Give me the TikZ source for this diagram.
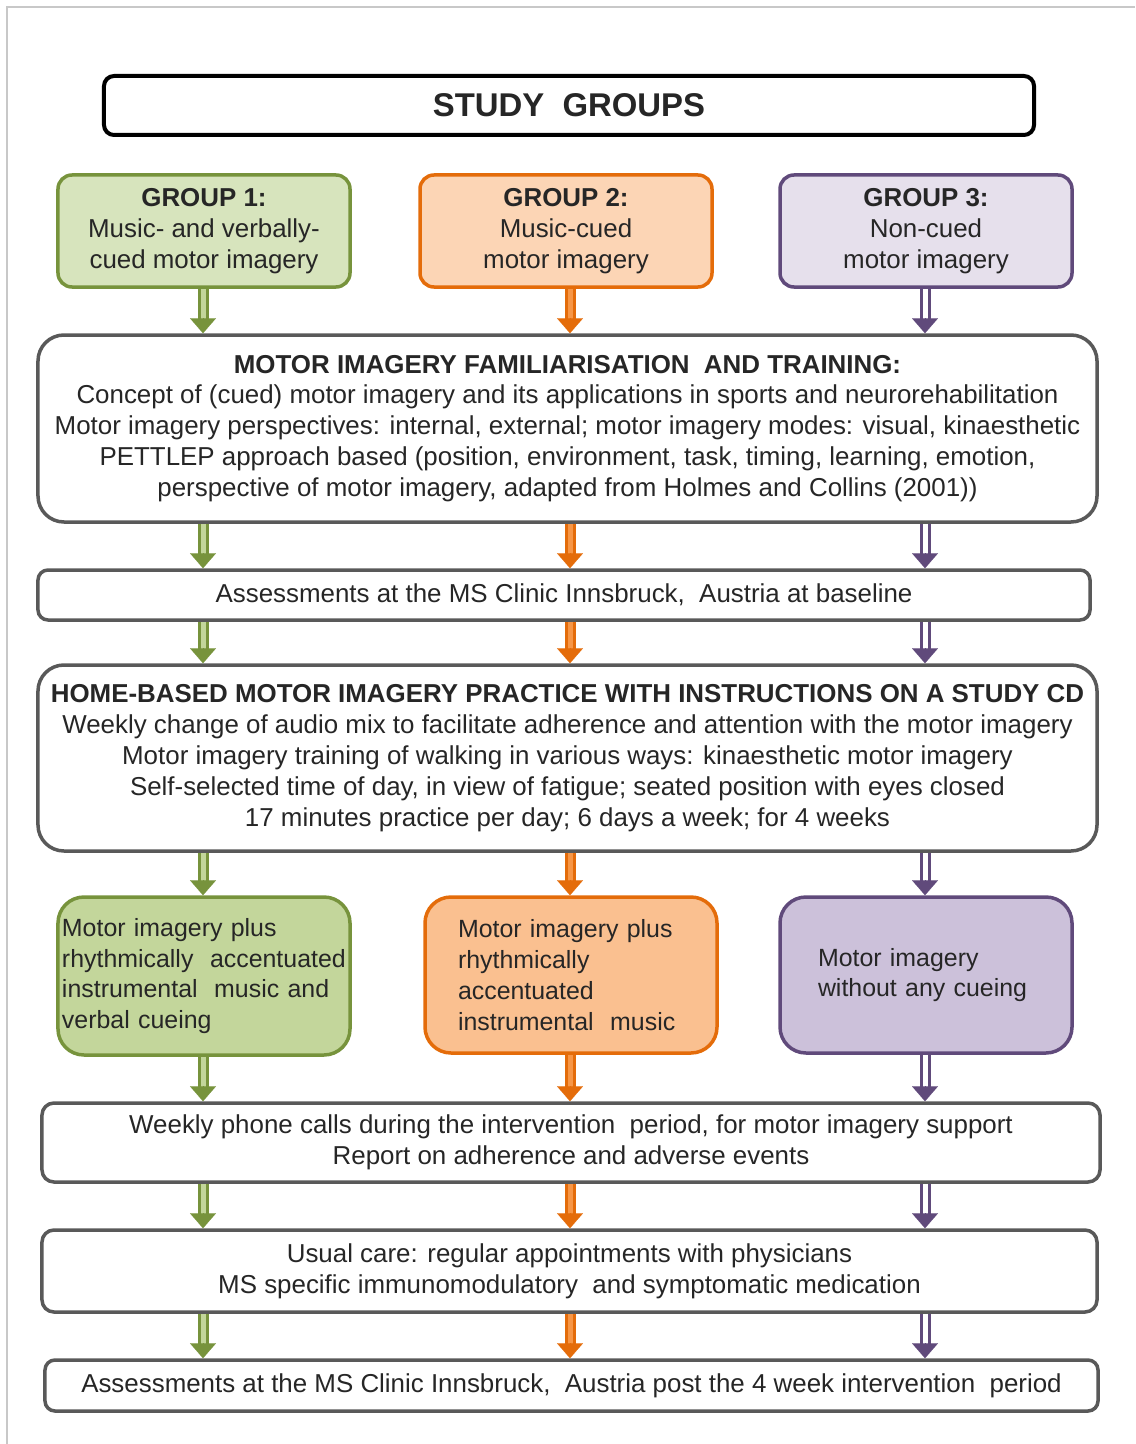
\documentclass[tikz,border=0pt]{standalone}
\usepackage{fontspec}
\setmainfont{Liberation Sans}
\usetikzlibrary{arrows.meta,calc}

\definecolor{txt}{HTML}{262626}
\definecolor{frame}{HTML}{C8C8C8}
\definecolor{grayline}{HTML}{595959}
\definecolor{gline}{HTML}{77933C}
\definecolor{gpale}{HTML}{D7E4BD}
\definecolor{gfill}{HTML}{C3D69B}
\definecolor{oline}{HTML}{E46C0A}
\definecolor{opale}{HTML}{FCD5B5}
\definecolor{ofill}{HTML}{FAC090}
\definecolor{oinner}{HTML}{F79646}
\definecolor{pline}{HTML}{604A7B}
\definecolor{ppale}{HTML}{E6E0EC}
\definecolor{pfill}{HTML}{CCC1DA}

\newcommand\bodyfont{\fontsize{26}{31}\selectfont}
\newcommand\armfont{\fontsize{25}{31}\selectfont}
\newcommand\flowarrow[3]{%
  \draw[#1shaft] (#2) -- (#3);
  \draw[#1head] ($(#3)+(0,-15)$) -- (#3);
}

\begin{document}
\begin{tikzpicture}[x=1bp,y=-1bp,
  every node/.style={text=txt, font=\bodyfont, inner sep=0pt, align=center},
  box/.style={rectangle, draw=grayline, fill=white, line width=3.5bp, rounded corners=#1},
  box/.default=10bp,
  titlebox/.style={rectangle, draw=black, fill=white, line width=4bp, rounded corners=10bp},
  groupbox/.style n args={3}{rectangle, draw=#1, fill=#2, line width=3.5bp,
      rounded corners=#3, minimum width=292bp},
  armbox/.style={font=\armfont, align=left},
  shaftbase/.style={line width=3bp, double distance=5bp, shorten >=14bp},
  headbase/.style={line width=0.1bp, -{Triangle[length=15bp,width=26bp]}},
  gshaft/.style={shaftbase, draw=gline, double=gfill},
  ghead/.style={headbase, draw=gline, fill=gline},
  oshaft/.style={shaftbase, draw=oline, double=oinner},
  ohead/.style={headbase, draw=oline, fill=oline},
  pshaft/.style={shaftbase, draw=pline, double=white},
  phead/.style={headbase, draw=pline, fill=pline},
]
\useasboundingbox (0,0) rectangle (1135,1444);
\draw[frame, line width=1.5bp] (7,1444) -- (7,7) -- (1135,7);

% column positions of the three arms
\coordinate (xA) at (203,0);
\coordinate (xB) at (570,0);
\coordinate (xC) at (925,0);

\node[titlebox, minimum width=930bp, minimum height=59bp] (title) at (569,105.5)
  {\fontsize{33}{38}\selectfont\bfseries STUDY\ \ GROUPS};

\node[groupbox={gline}{gpale}{14bp}, minimum height=112bp] (g1) at (204,231)
  {\textbf{GROUP 1:}\\Music- and verbally-\\cued motor imagery};
\node[groupbox={oline}{opale}{14bp}, minimum height=112bp] (g2) at (566,231)
  {\textbf{GROUP 2:}\\Music-cued\\motor imagery};
\node[groupbox={pline}{ppale}{14bp}, minimum height=112bp] (g3) at (926,231)
  {\textbf{GROUP 3:}\\Non-cued\\motor imagery};

\node[box=26bp, minimum width=1059bp, minimum height=187bp] (fam) at (567.5,428.5)
  {\textbf{MOTOR IMAGERY FAMILIARISATION\ \ AND TRAINING:}\\
   Concept of (cued) motor imagery and its applications in sports and neurorehabilitation\\
   Motor imagery perspectives: internal, external; motor imagery modes: visual, kinaesthetic\\
   PETTLEP approach based (position, environment, task, timing, learning, emotion,\\
   perspective of motor imagery, adapted from Holmes and Collins (2001))};

\node[box, minimum width=1052bp, minimum height=50bp] (base) at (564,595)
  {Assessments at the MS Clinic Innsbruck,\ \ Austria at baseline};

\node[box=26bp, minimum width=1059bp, minimum height=186bp] (home) at (567.5,758)
  {\textbf{HOME-BASED MOTOR IMAGERY PRACTICE WITH INSTRUCTIONS ON A STUDY CD}\\
   Weekly change of audio mix to facilitate adherence and attention with the motor imagery\\
   Motor imagery training of walking in various ways: kinaesthetic motor imagery\\
   Self-selected time of day, in view of fatigue; seated position with eyes closed\\
   17 minutes practice per day; 6 days a week; for 4 weeks};

\node[groupbox={gline}{gfill}{26bp}, minimum height=158bp, armbox, text width=284bp] (m1) at (204,976)
  {Motor imagery plus\\rhythmically\ \ accentuated\\instrumental\ \ music and\\verbal cueing};
\node[groupbox={oline}{ofill}{26bp}, minimum height=156bp, armbox, text width=226bp] (m2) at (571,975)
  {Motor imagery plus\\rhythmically\\accentuated\\instrumental\ \ music};
\node[groupbox={pline}{pfill}{26bp}, minimum height=156bp, armbox, text width=216bp] (m3) at (926,975)
  {Motor imagery\\\mbox{without any cueing}};

\node[box=12bp, minimum width=1058bp, minimum height=79bp] (phone) at (571,1142.5)
  {Weekly phone calls during the intervention\ \ period, for motor imagery support\\
   Report on adherence and adverse events};

\node[box=12bp, minimum width=1055bp, minimum height=82bp] (care) at (569.5,1271)
  {Usual care: regular appointments with physicians\\
   MS specific immunomodulatory\ \ and symptomatic medication};

\node[box, minimum width=1053bp, minimum height=51bp] (post) at (571.5,1385.5)
  {Assessments at the MS Clinic Innsbruck,\ \ Austria post the 4 week intervention\ \ period};

% connectors, one per arm between consecutive stages
\foreach \a/\b in {g1/fam, fam/base, base/home, home/m1, m1/phone, phone/care, care/post}
  \flowarrow{g}{\a.south -| xA}{\b.north -| xA};
\foreach \a/\b in {g2/fam, fam/base, base/home, home/m2, m2/phone, phone/care, care/post}
  \flowarrow{o}{\a.south -| xB}{\b.north -| xB};
\foreach \a/\b in {g3/fam, fam/base, base/home, home/m3, m3/phone, phone/care, care/post}
  \flowarrow{p}{\a.south -| xC}{\b.north -| xC};
\end{tikzpicture}
\end{document}
